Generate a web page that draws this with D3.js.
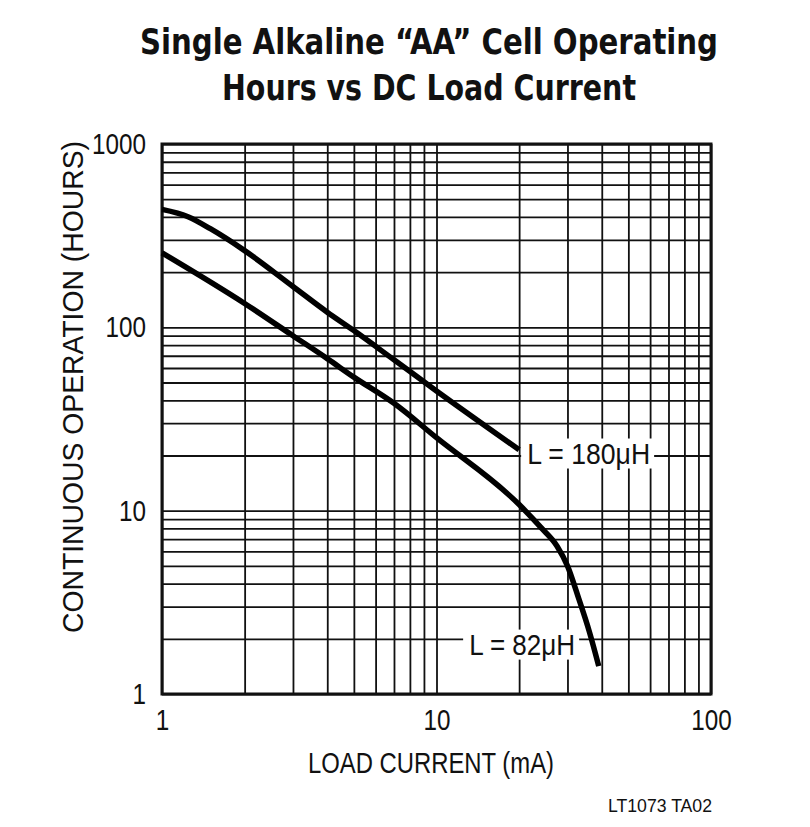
<!DOCTYPE html>
<html>
<head>
<meta charset="utf-8">
<script src="https://cdn.jsdelivr.net/npm/d3@7"></script>
<style>
  body { margin: 0; background: #fff; }
  svg text { font-family: "Liberation Sans", Arial, sans-serif; fill: #111; }
  svg text.title { font-family: "DejaVu Sans Condensed", "Liberation Sans", sans-serif; }
</style>
</head>
<body>
<svg id="chart" width="810" height="827"></svg>
<script>
// data
const titleLines = ["Single Alkaline \u201CAA\u201D Cell Operating", "Hours vs DC Load Current"]
const xTickValues = [1, 10, 100]
const yTickValues = [1, 10, 100, 1000]

const current180 = [1, 1.25, 1.5, 2, 3, 4, 5, 7, 10, 20]
const hours180 = [440, 400, 345, 262, 167, 121, 96, 66.5, 45, 21.5]

const current82 = [1, 2, 3, 4, 5, 7, 10, 20, 24, 27.5, 30, 33, 36, 39]
const hours82 = [255, 135, 90, 67.5, 53.5, 38.5, 25, 10.8, 8.1, 6.4, 5.0, 3.3, 2.2, 1.42]

const svg = d3.select('#chart')

// set all dimensions and margins
const margin = {top: 144, right: 99, bottom: 133, left: 162}
const width = 810, height = 827
const innerWidth = width - margin.left - margin.right
const innerHeight = height - margin.top - margin.bottom

const xScale = d3.scaleLog().domain([1, 100]).range([0, innerWidth])
const yScale = d3.scaleLog().domain([1, 1000]).range([innerHeight, 0])

// every 1..9 step of each decade gets a grid line
const allTicks = (lo, hi) => {
    const t = []
    for (let d = lo; d < hi; d *= 10) for (let k = 1; k < 10; k++) t.push(d * k)
    t.push(hi)
    return t
}

const g = svg.append('g')
    .attr('transform', `translate(${margin.left},${margin.top})`)

// grid
g.append('g')
    .attr('transform', `translate(0,${innerHeight})`)
    .call(d3.axisBottom(xScale).tickValues(allTicks(1, 100)).tickSize(-innerHeight).tickFormat(''))
    .call(a => a.select('.domain').remove())
    .call(a => a.selectAll('text').remove())
    .selectAll('line').attr('stroke', '#111').attr('stroke-width', 1.8)

g.append('g')
    .call(d3.axisLeft(yScale).tickValues(allTicks(1, 1000)).tickSize(-innerWidth).tickFormat(''))
    .call(a => a.select('.domain').remove())
    .call(a => a.selectAll('text').remove())
    .selectAll('line').attr('stroke', '#111').attr('stroke-width', 1.8)

// tick labels, narrowed to the condensed face of the original
const digitW = 13.5
g.append('g')
    .attr('transform', `translate(0,${innerHeight})`)
    .call(d3.axisBottom(xScale).tickValues(xTickValues).tickSize(0).tickPadding(15).tickFormat(d3.format('d')))
    .call(a => a.select('.domain').remove())
    .selectAll('text')
    .attr('font-family', null)
    .attr('font-size', null)
    .attr('fill', '#111')
    .attr('textLength', d => String(d).length * digitW)
    .attr('lengthAdjust', 'spacingAndGlyphs')
    .style('font-size', '30px')

g.append('g')
    .call(d3.axisLeft(yScale).tickValues(yTickValues).tickSize(0).tickPadding(16).tickFormat(d3.format('d')))
    .call(a => a.select('.domain').remove())
    .selectAll('text')
    .attr('font-family', null)
    .attr('font-size', null)
    .attr('fill', '#111')
    .attr('textLength', d => String(d).length * digitW)
    .attr('lengthAdjust', 'spacingAndGlyphs')
    .style('font-size', '30px')

// frame
g.append('rect')
    .attr('width', innerWidth)
    .attr('height', innerHeight)
    .attr('fill', 'none')
    .attr('stroke', '#111')
    .attr('stroke-width', 3)

// curves
const line = d3.line()
    .x(d => xScale(d[0]))
    .y(d => yScale(d[1]))
    .curve(d3.curveMonotoneX)

const curves = [
    d3.zip(current180, hours180),
    d3.zip(current82, hours82)
]

g.selectAll('path.curve')
    .data(curves)
    .enter()
    .append('path')
    .attr('class', 'curve')
    .attr('d', line)
    .attr('fill', 'none')
    .attr('stroke', '#000')
    .attr('stroke-width', 5.5)
    .attr('stroke-linecap', 'butt')

// curve labels, white boxes cut the grid like the original
const labels = [
    {text: 'L = 180\u03BCH', x: 20, y: 20.5, dx: 8, w: 123},
    {text: 'L = 82\u03BCH', x: 20, y: 1.86, dx: -50, w: 106}
]
labels.forEach(l => {
    const lg = g.append('g')
        .attr('transform', `translate(${xScale(l.x) + l.dx},${yScale(l.y)})`)
    lg.append('rect')
        .attr('x', -6)
        .attr('y', -15)
        .attr('width', l.w + 10)
        .attr('height', 30)
        .attr('fill', '#fff')
    lg.append('text')
        .attr('dy', '0.36em')
        .attr('textLength', l.w)
        .attr('lengthAdjust', 'spacingAndGlyphs')
        .style('font-size', '30px')
        .text(l.text)
})

// axis titles
svg.append('text')
    .attr('x', 431)
    .attr('y', 773)
    .attr('text-anchor', 'middle')
    .attr('textLength', 246)
    .attr('lengthAdjust', 'spacingAndGlyphs')
    .style('font-size', '30px')
    .text('LOAD CURRENT (mA)')

svg.append('text')
    .attr('transform', 'translate(83,387) rotate(-90)')
    .attr('text-anchor', 'middle')
    .attr('textLength', 492)
    .attr('lengthAdjust', 'spacingAndGlyphs')
    .style('font-size', '30px')
    .text('CONTINUOUS OPERATION (HOURS)')

// title
svg.selectAll('text.title')
    .data(titleLines)
    .enter()
    .append('text')
    .attr('class', 'title')
    .attr('x', 429)
    .attr('y', (d, i) => 54 + i * 46)
    .attr('text-anchor', 'middle')
    .attr('textLength', (d, i) => i === 0 ? 578 : 414)
    .attr('lengthAdjust', 'spacingAndGlyphs')
    .style('font-size', '35px')
    .style('font-weight', 'bold')
    .text(d => d)

svg.append('text')
    .attr('x', 712)
    .attr('y', 812)
    .attr('text-anchor', 'end')
    .attr('textLength', 104)
    .attr('lengthAdjust', 'spacingAndGlyphs')
    .style('font-size', '18px')
    .text('LT1073 TA02')
</script>
</body>
</html>
